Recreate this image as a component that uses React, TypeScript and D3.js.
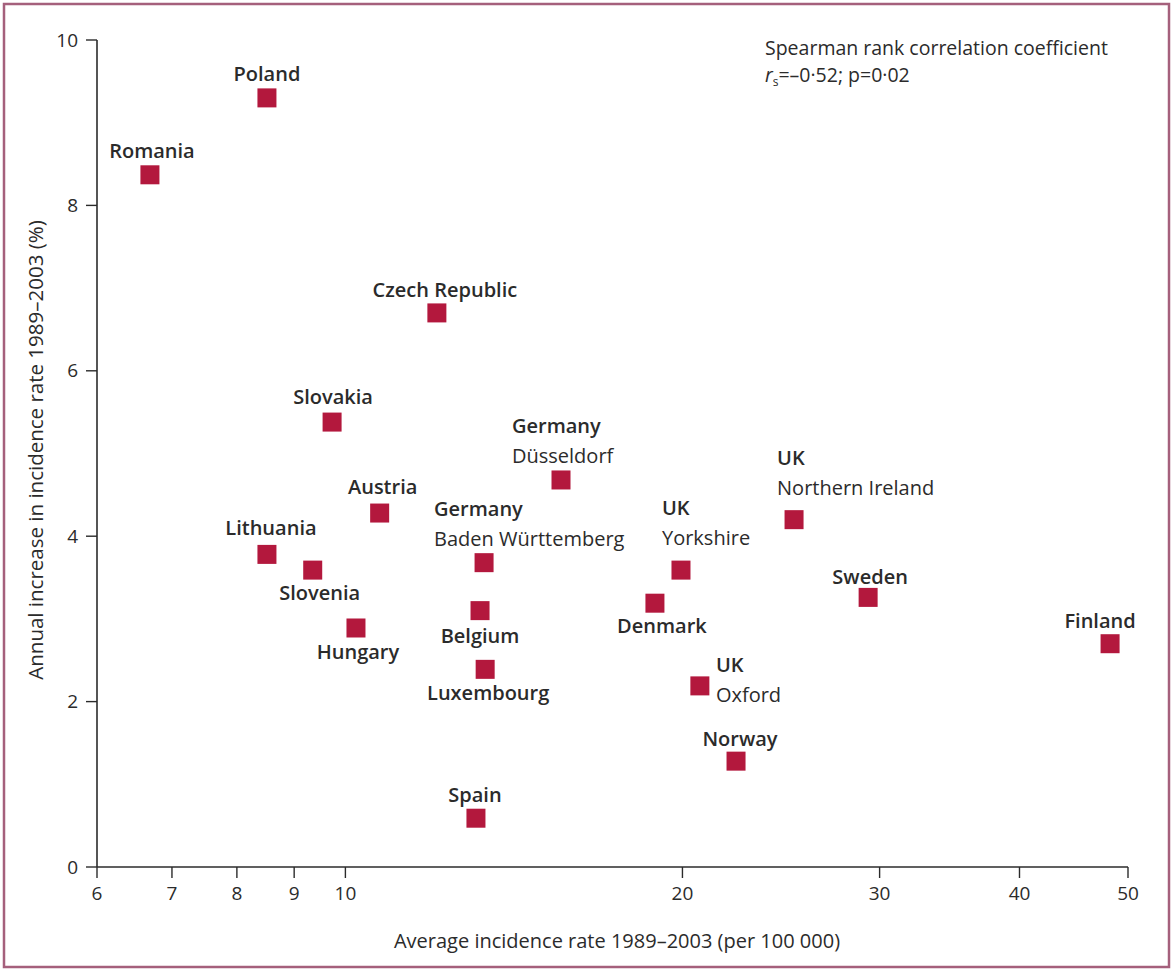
import React from "react";
import * as d3 from "d3";

const regions = [
  "Poland", "Romania", "Czech Republic", "Slovakia", "Germany Düsseldorf", "Austria",
  "Lithuania", "Slovenia", "Hungary", "Germany Baden Württemberg", "Belgium", "Luxembourg",
  "Spain", "UK Yorkshire", "Denmark", "UK Oxford", "Norway", "UK Northern Ireland",
  "Sweden", "Finland",
];
const avgIncidence = [
  8.51, 6.69, 12.07, 9.73, 15.58, 10.73,
  8.51, 9.35, 10.22, 13.30, 13.19, 13.33,
  13.08, 19.94, 18.90, 20.73, 22.33, 25.16,
  29.30, 48.19,
];
const annualIncrease = [
  9.30, 8.37, 6.70, 5.38, 4.68, 4.28,
  3.78, 3.59, 2.89, 3.68, 3.10, 2.39,
  0.59, 3.59, 3.19, 2.19, 1.28, 4.20,
  3.26, 2.70,
];
const xTicks = [6, 7, 8, 9, 10, 20, 30, 40, 50];
const yTicks = [0, 2, 4, 6, 8, 10];

const labelLines: Record<string, string[]> = {
  "Germany Düsseldorf": ["Germany", "Düsseldorf"],
  "Germany Baden Württemberg": ["Germany", "Baden Württemberg"],
  "UK Yorkshire": ["UK", "Yorkshire"],
  "UK Oxford": ["UK", "Oxford"],
  "UK Northern Ireland": ["UK", "Northern Ireland"],
};

// layout: dx, dy (baseline of first line), anchor
const labelLayout: Record<string, [number, number, string]> = {
  "Poland": [0, -17, "middle"],
  "Romania": [2, -17, "middle"],
  "Czech Republic": [8, -16, "middle"],
  "Slovakia": [1, -18, "middle"],
  "Germany Düsseldorf": [-49, -47, "start"],
  "Austria": [3, -19, "middle"],
  "Lithuania": [4, -19, "middle"],
  "Slovenia": [7, 30, "middle"],
  "Hungary": [2, 31, "middle"],
  "Germany Baden Württemberg": [-50, -47, "start"],
  "Belgium": [0, 32, "middle"],
  "Luxembourg": [3, 31, "middle"],
  "Spain": [-1, -16, "middle"],
  "UK Yorkshire": [-19, -55, "start"],
  "Denmark": [7, 30, "middle"],
  "UK Oxford": [16, -14, "start"],
  "Norway": [4, -15, "middle"],
  "UK Northern Ireland": [-17, -55, "start"],
  "Sweden": [2, -13, "middle"],
  "Finland": [-10, -16, "middle"],
};

const FONT = "'Open Sans', 'Noto Sans', sans-serif";
const RED = "#b3183d";
const INK = "#2b2b2b";

export default function App() {
  const x = d3.scaleLog().domain([6, 50]).range([97, 1128]);
  const y = d3.scaleLinear().domain([0, 10]).range([867, 40]);
  const sq = 19;

  return (
    <svg
      width={1173}
      height={971}
      style={{ position: "absolute", left: 0, top: 0, display: "block", background: "#fff" }}
      fontFamily={FONT}
    >
      <rect x={4} y={4} width={1165} height={963} fill="#fff" stroke="#a5607c" strokeWidth={2.5} />

      {/* y axis */}
      <line x1={97} x2={97} y1={y(10)} y2={y(0)} stroke={INK} strokeWidth={1.6} />
      {yTicks.map((t) => (
        <g key={"y" + t}>
          <line x1={86} x2={97} y1={y(t)} y2={y(t)} stroke={INK} strokeWidth={1.4} />
          <text x={78} y={y(t)} dy="0.35em" textAnchor="end" fontSize={19} fill={INK}>
            {t}
          </text>
        </g>
      ))}

      {/* x axis */}
      <line x1={x(6)} x2={x(50)} y1={867} y2={867} stroke={INK} strokeWidth={1.6} />
      {xTicks.map((t) => (
        <g key={"x" + t}>
          <line x1={x(t)} x2={x(t)} y1={867} y2={878} stroke={INK} strokeWidth={1.4} />
          <text x={x(t)} y={900} textAnchor="middle" fontSize={19} fill={INK}>
            {t}
          </text>
        </g>
      ))}

      <text x={617} y={948} textAnchor="middle" fontSize={20} fill={INK}>
        Average incidence rate 1989–2003 (per 100 000)
      </text>
      <text
        transform="translate(43,450) rotate(-90)"
        textAnchor="middle"
        fontSize={20.5}
        fill={INK}
      >
        Annual increase in incidence rate 1989–2003 (%)
      </text>

      <text x={765} y={55} fontSize={19.5} fill={INK}>
        Spearman rank correlation coefficient
      </text>
      <text x={765} y={82} fontSize={19.5} fill={INK}>
        <tspan fontStyle="italic">r</tspan>
        <tspan fontSize={12} dy={4}>s</tspan>
        <tspan dy={-4}>=–0·52; p=0·02</tspan>
      </text>

      {regions.map((r, i) => {
        const cx = x(avgIncidence[i]);
        const cy = y(annualIncrease[i]);
        return (
          <rect key={"p" + r} x={cx - sq / 2} y={cy - sq / 2} width={sq} height={sq} fill={RED} />
        );
      })}

      {regions.map((r, i) => {
        const cx = x(avgIncidence[i]);
        const cy = y(annualIncrease[i]);
        const [dx, dy, anchor] = labelLayout[r];
        const lines = labelLines[r] || [r];
        return (
          <text
            key={"l" + r}
            x={cx + dx}
            y={cy + dy}
            textAnchor={anchor}
            fontSize={20}
            fill={INK}
          >
            {lines.map((ln, j) => (
              <tspan key={j} x={cx + dx} dy={j === 0 ? 0 : 30} fontWeight={j === 0 ? 600 : 400}>
                {ln}
              </tspan>
            ))}
          </text>
        );
      })}
    </svg>
  );
}
